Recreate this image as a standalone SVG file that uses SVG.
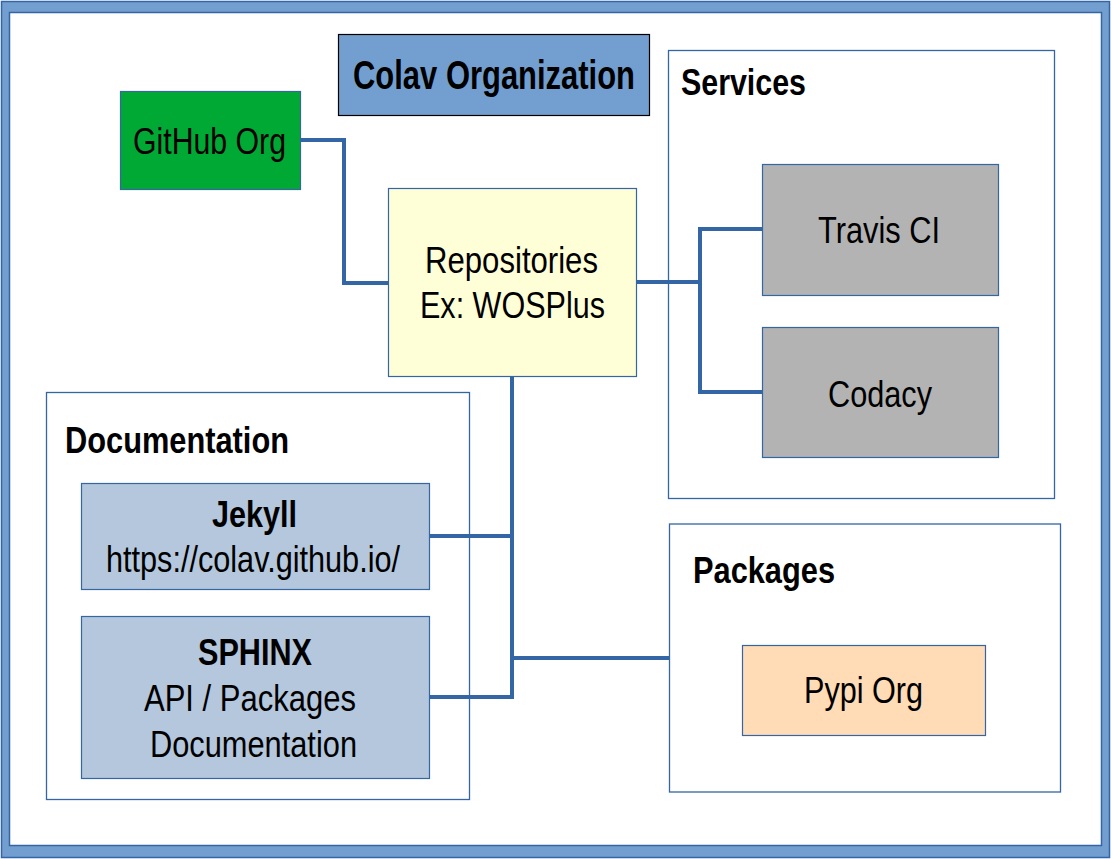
<svg xmlns="http://www.w3.org/2000/svg" width="1111" height="859" viewBox="0 0 1111 859">
<style>
text{font-family:"Liberation Sans",Arial,sans-serif;fill:#000;}
.r{font-size:37px;}
.b{font-size:37px;font-weight:bold;}
.box{stroke:#3465a4;stroke-width:1.2;}
.cont{fill:#fff;stroke:#3465a4;stroke-width:1.3;}
.conn{fill:none;stroke:#3465a4;stroke-width:4;}
</style>
<rect x="0" y="0" width="1111" height="859" fill="#fff"/>
<g id="frame">
<path d="M1.5 1.5H1109.5V857.5H1.5Z M9.5 12.5V845.5H1101.5V12.5Z" fill="#729fcf" fill-rule="evenodd" stroke="#3465a4" stroke-width="1.5"/>
</g>
<g id="title">
<rect x="338.5" y="34.5" width="311" height="81" fill="#729fcf" stroke="#000" stroke-width="1.2"/>
<text class="b" style="font-size:40px" transform="translate(494,89) scale(0.774,1)" x="0" y="0" text-anchor="middle">Colav Organization</text>
</g>
<g id="services">
<rect class="cont" x="668.5" y="50.5" width="386" height="448"/>
<text class="b" x="681" y="95" textLength="125" lengthAdjust="spacingAndGlyphs">Services</text>
</g>
<g id="documentation">
<rect class="cont" x="46.5" y="392.5" width="423" height="407"/>
<text class="b" x="65" y="453" textLength="224" lengthAdjust="spacingAndGlyphs">Documentation</text>
</g>
<g id="packages">
<rect class="cont" x="669.5" y="524" width="391" height="268" stroke-width="2.5"/>
<text class="b" x="693" y="583" textLength="142" lengthAdjust="spacingAndGlyphs">Packages</text>
</g>
<g id="connectors">
<polyline class="conn" points="301,140 344,140 344,283 389,283"/>
<polyline class="conn" points="637,282 700,282"/>
<polyline class="conn" points="762,229 700,229 700,392 762,392"/>
<polyline class="conn" points="512,376 512,697 429,697"/>
<polyline class="conn" points="429,536 512,536"/>
<polyline class="conn" points="512,658 669,658"/>
</g>
<g id="github">
<rect class="box" x="120.5" y="91.5" width="180" height="98" fill="#00a933"/>
<text class="r" x="133" y="154" textLength="153" lengthAdjust="spacingAndGlyphs">GitHub Org</text>
</g>
<g id="repositories">
<rect class="box" x="388.5" y="188.5" width="248" height="188" fill="#ffffd7"/>
<text class="r" x="425" y="273" textLength="173" lengthAdjust="spacingAndGlyphs">Repositories</text>
<text class="r" x="420" y="318" textLength="185" lengthAdjust="spacingAndGlyphs">Ex: WOSPlus</text>
</g>
<g id="travis">
<rect class="box" x="762.5" y="164.5" width="236" height="131" fill="#b3b3b3"/>
<text class="r" x="818" y="243" textLength="122" lengthAdjust="spacingAndGlyphs">Travis CI</text>
</g>
<g id="codacy">
<rect class="box" x="762.5" y="327.5" width="236" height="130" fill="#b3b3b3"/>
<text class="r" x="828" y="407" textLength="104" lengthAdjust="spacingAndGlyphs">Codacy</text>
</g>
<g id="jekyll">
<rect class="box" x="81.5" y="483.5" width="348" height="106" fill="#b4c7dc"/>
<text class="b" x="212" y="527" textLength="85" lengthAdjust="spacingAndGlyphs">Jekyll</text>
<text class="r" x="106" y="572" textLength="294" lengthAdjust="spacingAndGlyphs">https://colav.github.io/</text>
</g>
<g id="sphinx">
<rect class="box" x="81.5" y="616.5" width="348" height="162" fill="#b4c7dc"/>
<text class="b" x="198" y="665" textLength="114" lengthAdjust="spacingAndGlyphs">SPHINX</text>
<text class="r" x="144" y="711" textLength="212" lengthAdjust="spacingAndGlyphs">API / Packages</text>
<text class="r" x="150" y="757" textLength="207" lengthAdjust="spacingAndGlyphs">Documentation</text>
</g>
<g id="pypi">
<rect class="box" x="742.5" y="645.5" width="243" height="90" fill="#ffdbb6"/>
<text class="r" x="804" y="703" textLength="119" lengthAdjust="spacingAndGlyphs">Pypi Org</text>
</g>
</svg>
